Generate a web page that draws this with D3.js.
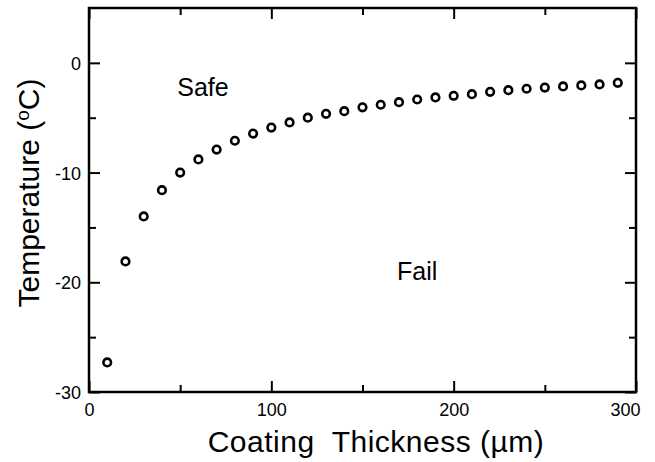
<!DOCTYPE html>
<html>
<head>
<meta charset="utf-8">
<script src="https://cdn.jsdelivr.net/npm/d3@7"></script>
<style>
  body { margin: 0; background: #fff; }
  text { font-family: "Liberation Sans", Arial, Helvetica, sans-serif; fill: #000; }
</style>
</head>
<body>
<div id="chart"></div>
<script>
// Data
var thickness = [10, 20, 30, 40, 50, 60, 70, 80, 90, 100, 110, 120, 130, 140, 150,
                 160, 170, 180, 190, 200, 210, 220, 230, 240, 250, 260, 270, 280, 290];
var temperature = [-27.3, -18.1, -14.0, -11.6, -10.0, -8.8, -7.9, -7.1, -6.45, -5.9,
                   -5.43, -5.0, -4.65, -4.4, -4.05, -3.82, -3.58, -3.34, -3.15, -3.0,
                   -2.85, -2.64, -2.49, -2.36, -2.25, -2.15, -2.06, -1.97, -1.82];
var xMajorTicks = [0, 100, 200, 300];
var xMinorTicks = [50, 150, 250];
var yMajorTicks = [-30, -20, -10, 0];
var yMinorTicks = [-25, -15, -5];
var regionLabels = ["Safe", "Fail"];
var regionX = [62.5, 180];
var regionY = [-3.0, -19.8];

var svgWidth = 655;
var svgHeight = 462;

var margin = { top: 8, right: 19, bottom: 70, left: 89 };
var width = svgWidth - margin.left - margin.right;
var height = svgHeight - margin.top - margin.bottom;

var svg = d3.select("#chart")
    .append("svg")
    .attr("width", svgWidth)
    .attr("height", svgHeight);

var chartGroup = svg.append("g")
    .attr("transform", `translate(${margin.left}, ${margin.top})`);

// Scales
var xScale = d3.scaleLinear().domain([0, 300]).range([0, width]);
var yScale = d3.scaleLinear().domain([-30, 5]).range([height, 0]);

var majorLen = 11, minorLen = 7;
var plainFormat = d => String(d);   // keep the ASCII hyphen for negatives

// Bottom axis: inward ticks with labels
var bottomAxis = d3.axisBottom(xScale).tickValues(xMajorTicks)
    .tickSizeInner(-majorLen).tickSizeOuter(0).tickPadding(11)
    .tickFormat(plainFormat);
var gBottom = chartGroup.append("g")
    .attr("transform", `translate(0, ${height})`)
    .call(bottomAxis);
chartGroup.append("g")
    .attr("transform", `translate(0, ${height})`)
    .call(d3.axisBottom(xScale).tickValues(xMinorTicks).tickSizeInner(-minorLen).tickSizeOuter(0).tickFormat(""));

// Top axis: ticks only
chartGroup.append("g")
    .call(d3.axisTop(xScale).tickValues(xMajorTicks).tickSizeInner(-majorLen).tickSizeOuter(0).tickFormat(""));
chartGroup.append("g")
    .call(d3.axisTop(xScale).tickValues(xMinorTicks).tickSizeInner(-minorLen).tickSizeOuter(0).tickFormat(""));

// Left axis with labels
var leftAxis = d3.axisLeft(yScale).tickValues(yMajorTicks)
    .tickSizeInner(-majorLen).tickSizeOuter(0).tickPadding(8)
    .tickFormat(plainFormat);
var gLeft = chartGroup.append("g").call(leftAxis);
chartGroup.append("g")
    .call(d3.axisLeft(yScale).tickValues(yMinorTicks).tickSizeInner(-minorLen).tickSizeOuter(0).tickFormat(""));

// Right axis: ticks only
chartGroup.append("g")
    .attr("transform", `translate(${width}, 0)`)
    .call(d3.axisRight(yScale).tickValues(yMajorTicks).tickSizeInner(-majorLen).tickSizeOuter(0).tickFormat(""));
chartGroup.append("g")
    .attr("transform", `translate(${width}, 0)`)
    .call(d3.axisRight(yScale).tickValues(yMinorTicks).tickSizeInner(-minorLen).tickSizeOuter(0).tickFormat(""));

// Style ticks and drop default domain paths
chartGroup.selectAll(".domain").remove();
chartGroup.selectAll(".tick line").attr("stroke", "#000").attr("stroke-width", 2);
chartGroup.selectAll(".tick text").attr("font-size", "18px")
    .style("font-family", "'Liberation Sans', Arial, Helvetica, sans-serif");
gBottom.selectAll(".tick text").filter(d => d === 300).attr("dx", "-11");
gLeft.selectAll(".tick text").attr("dy", "0.36em");

// Frame
chartGroup.append("rect")
    .attr("x", 0)
    .attr("y", 0)
    .attr("width", width)
    .attr("height", height)
    .attr("fill", "none")
    .attr("stroke", "#000")
    .attr("stroke-width", 2.5);

// Points
chartGroup.selectAll("circle")
    .data(thickness)
    .enter()
    .append("circle")
    .attr("cx", d => xScale(d))
    .attr("cy", (d, i) => yScale(temperature[i]))
    .attr("r", 3.8)
    .attr("fill", "none")
    .attr("stroke", "#000")
    .attr("stroke-width", 2.6);

// Region labels
chartGroup.selectAll(".region")
    .data(regionLabels)
    .enter()
    .append("text")
    .attr("class", "region")
    .attr("x", (d, i) => xScale(regionX[i]))
    .attr("y", (d, i) => yScale(regionY[i]))
    .attr("text-anchor", "middle")
    .attr("font-size", "25px")
    .text(d => d);

// Label x axis
svg.append("text")
    .attr("x", 376)
    .attr("y", 452)
    .attr("text-anchor", "middle")
    .attr("font-size", "30px")
    .attr("letter-spacing", "0.5px")
    .attr("xml:space", "preserve")
    .style("white-space", "pre")
    .text("Coating  Thickness (\u00b5m)");

// Label y axis
var yTitle = svg.append("text")
    .attr("transform", "translate(39, 193) rotate(-90)")
    .attr("text-anchor", "middle")
    .attr("font-size", "30px");
yTitle.append("tspan").text("Temperature (");
yTitle.append("tspan").attr("font-size", "19px").attr("dy", "-10").text("o");
yTitle.append("tspan").attr("dy", "10").text("C)");
</script>
</body>
</html>
